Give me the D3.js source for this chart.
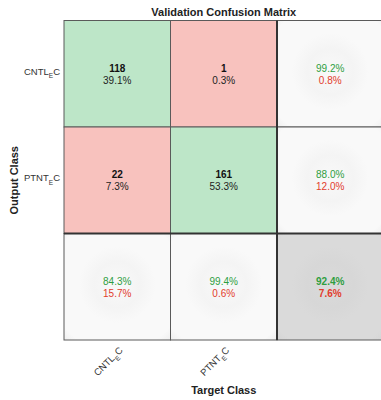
<!DOCTYPE html>
<html>
<head>
<meta charset="utf-8">
<script src="https://cdn.jsdelivr.net/npm/d3@7"></script>
<style>
  html, body { margin: 0; padding: 0; background: #fff; }
  svg { display: block; font-family: "Liberation Sans", Arial, sans-serif; }
</style>
</head>
<body>
<svg id="chart" width="381" height="400"></svg>
<script>
// Class names (base + subscript + suffix), shown as CNTL_E C / PTNT_E C
const classBase = ["CNTL", "PTNT"];
const classSub = ["E", "E"];
const classTail = ["C", "C"];
// Confusion counts: rows = output class, columns = target class
const countsRow0 = [118, 1];
const countsRow1 = [22, 161];
const counts = [countsRow0, countsRow1];

const titleText = "Validation Confusion Matrix";
const xTitle = "Target Class";
const yTitle = "Output Class";

const colors = {
  correct: "#bde6c8",
  wrong: "#f8c2be",
  good: "#2f9e3f",
  bad: "#e23c2c",
  grid: "#5a5a5a",
  sep: "#333333",
  label: "#333333"
};

const svg = d3.select("#chart");
const n = counts.length;
const idx = d3.range(n + 1);           // two classes plus a summary slot
const total = d3.sum(counts.flat());

const x = d3.scaleBand().domain(idx).range([64, 383.5]);
const y = d3.scaleBand().domain(idx).range([20.5, 340]);
const bw = x.bandwidth(), bh = y.bandwidth();

// soft shading used by the summary cells
const defs = svg.append("defs");
function shade(id, base, mid, edge) {
  const g = defs.append("radialGradient").attr("id", id).attr("cx", "50%").attr("cy", "48%").attr("r", "72%");
  g.append("stop").attr("offset", "0%").attr("stop-color", base);
  g.append("stop").attr("offset", "30%").attr("stop-color", mid);
  g.append("stop").attr("offset", "50%").attr("stop-color", base);
  g.append("stop").attr("offset", "88%").attr("stop-color", base);
  g.append("stop").attr("offset", "100%").attr("stop-color", edge);
}
shade("sumShade", "#f9f9f9", "#f4f4f4", "#efefef");
shade("totShade", "#dadada", "#d7d7d7", "#d4d4d4");

const fmt = v => (v * 100).toFixed(1) + "%";

// build cell records
const cells = [];
for (let r = 0; r <= n; r++) {
  for (let c = 0; c <= n; c++) {
    let cell = { r, c };
    if (r < n && c < n) {
      const v = counts[r][c];
      cell.type = r === c ? "correct" : "wrong";
      cell.top = String(v);
      cell.bottom = fmt(v / total);
    } else {
      let good, all;
      if (r < n) { good = counts[r][r]; all = d3.sum(counts[r]); }
      else if (c < n) { good = counts[c][c]; all = d3.sum(counts, row => row[c]); }
      else { good = d3.sum(idx.slice(0, n), i => counts[i][i]); all = total; }
      cell.type = (r === n && c === n) ? "total" : "summary";
      cell.top = fmt(good / all);
      cell.bottom = fmt(1 - good / all);
    }
    cells.push(cell);
  }
}

const g = svg.append("g");
const cg = g.selectAll("g.cell").data(cells).join("g").attr("class", "cell");

cg.append("rect")
  .attr("x", d => x(d.c)).attr("y", d => y(d.r))
  .attr("width", bw).attr("height", bh)
  .attr("fill", d => d.type === "summary" ? "url(#sumShade)" : d.type === "total" ? "url(#totShade)" : colors[d.type])
  .attr("stroke", colors.grid).attr("stroke-width", 1);

cg.append("text")
  .attr("x", d => x(d.c) + bw / 2)
  .attr("y", d => y(d.r) + bh / 2 - 2)
  .attr("text-anchor", "middle")
  .attr("font-size", 10)
  .attr("font-weight", d => (d.type === "correct" || d.type === "wrong" || d.type === "total") ? "bold" : "normal")
  .attr("fill", d => (d.type === "correct" || d.type === "wrong") ? "#111" : colors.good)
  .text(d => d.top);

cg.append("text")
  .attr("x", d => x(d.c) + bw / 2)
  .attr("y", d => y(d.r) + bh / 2 + 10)
  .attr("text-anchor", "middle")
  .attr("font-size", 10)
  .attr("font-weight", d => d.type === "total" ? "bold" : "normal")
  .attr("fill", d => (d.type === "correct" || d.type === "wrong") ? "#222" : colors.bad)
  .text(d => d.bottom);

// heavier separators around the summary row and column
g.append("line").attr("x1", x(n)).attr("x2", x(n)).attr("y1", y(0)).attr("y2", y(n) + bh)
  .attr("stroke", colors.sep).attr("stroke-width", 2);
g.append("line").attr("x1", x(0)).attr("x2", x(n) + bw).attr("y1", y(n)).attr("y2", y(n))
  .attr("stroke", colors.sep).attr("stroke-width", 2);

// title
svg.append("text").attr("x", (x(0) + x(n) + bw) / 2).attr("y", 16)
  .attr("text-anchor", "middle").attr("font-size", 11).attr("font-weight", "bold").attr("fill", "#222")
  .text(titleText);

// class label with subscript
function classLabel(sel, i) {
  sel.append("tspan").text(classBase[i]);
  sel.append("tspan").attr("font-size", 6.5).attr("dy", 3.5).text(classSub[i]);
  sel.append("tspan").attr("dy", -3.5).text(classTail[i]);
}
// row labels
idx.slice(0, n).forEach(i => {
  const t = svg.append("text")
    .attr("x", 60).attr("y", y(i) + bh / 2 + 1)
    .attr("text-anchor", "end").attr("font-size", 9.5).attr("fill", colors.label);
  classLabel(t, i);
});

// column labels, rotated
idx.slice(0, n).forEach(i => {
  const t = svg.append("text")
    .attr("transform", `translate(${x(i) + bw / 2 + 6},${351}) rotate(-45)`)
    .attr("text-anchor", "end").attr("font-size", 9.5).attr("fill", colors.label);
  classLabel(t, i);
});

// axis titles
svg.append("text").attr("x", (x(0) + x(n) + bw) / 2).attr("y", 394)
  .attr("text-anchor", "middle").attr("font-size", 11).attr("font-weight", "bold").attr("fill", "#222")
  .text(xTitle);
svg.append("text").attr("transform", `translate(18,${(y(0) + y(n) + bh) / 2}) rotate(-90)`)
  .attr("text-anchor", "middle").attr("font-size", 11).attr("font-weight", "bold").attr("fill", "#222")
  .text(yTitle);
</script>
</body>
</html>
